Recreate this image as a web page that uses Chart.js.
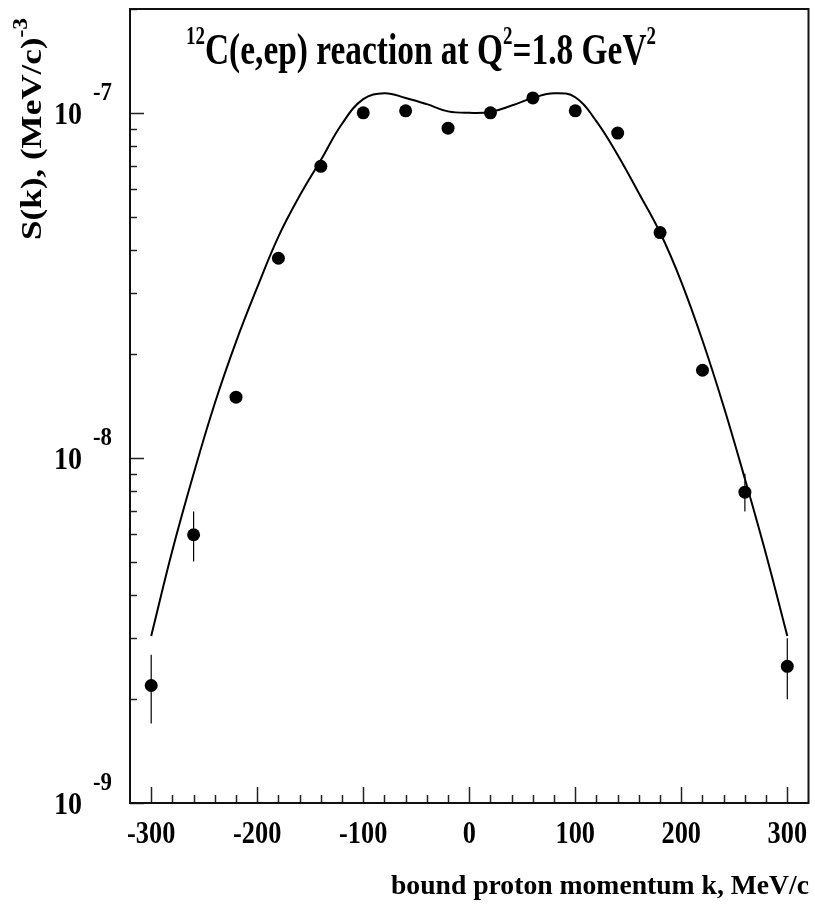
<!DOCTYPE html>
<html>
<head>
<meta charset="utf-8">
<script src="https://cdn.jsdelivr.net/npm/chart.js@4.4.1/dist/chart.umd.min.js"></script>
<style>
  body { margin: 0; background: #fff; }
  canvas { display: block; }
</style>
</head>
<body>
<canvas id="momChart" width="815" height="917"></canvas>
<script>
// datos medidos: momento k (MeV/c) y S(k)
const kPoints = [-300, -260, -220, -180, -140, -100, -60, -20, 20, 60, 100, 140, 180, 220, 260, 300];
const sPoints = [2.19e-9, 5.99e-9, 1.50e-8, 3.79e-8, 7.0e-8, 1.0e-7, 1.014e-7, 9.03e-8,
                 1.0e-7, 1.105e-7, 1.014e-7, 8.74e-8, 4.50e-8, 1.795e-8, 7.96e-9, 2.49e-9];
// barras de error (solo visibles en los extremos)
const errLow  = [1.70e-9, 5.01e-9, null, null, null, null, null, null, null, null, null, null, null, null, 7.0e-9, 2.0e-9];
const errHigh = [2.69e-9, 7.0e-9,  null, null, null, null, null, null, null, null, null, null, null, null, 9.0e-9, 3.0e-9];

// curva teorica
const kCurve = [-300, -280, -260, -240, -220, -200, -180, -160, -140, -120, -100, -80, -60, -40, -20, 0,
                20, 40, 60, 80, 100, 120, 140, 160, 180, 200, 220, 240, 260, 280, 300];
const sCurve = [3.05e-9, 5.4e-9, 9.0e-9, 1.44e-8, 2.17e-8, 3.12e-8, 4.38e-8, 5.75e-8, 7.3e-8, 9.3e-8, 1.096e-7, 1.14e-7, 1.105e-7, 1.06e-7, 1.01e-7, 1.0e-7,
                1.006e-7, 1.05e-7, 1.105e-7, 1.14e-7, 1.11e-7, 9.45e-8, 7.55e-8, 5.85e-8, 4.5e-8, 3.24e-8, 2.19e-8, 1.41e-8, 8.7e-9, 5.25e-9, 3.05e-9];

// ejes
const xTickLabels = [-300, -200, -100, 0, 100, 200, 300];
const xMinorStep = 20;
const yTickExps = [-9, -8, -7];

const FONT = '"Liberation Serif", "DejaVu Serif", serif';

// dibuja texto con partes (superindices) y compresion horizontal
function drawRich(ctx, parts, x, y, opts) {
    ctx.save();
    let w = 0;
    parts.forEach(p => {
        ctx.font = 'bold ' + p.size + 'px ' + FONT;
        p.w = ctx.measureText(p.t).width;
        w += p.w;
    });
    let sx = opts.sx || 1;
    if (opts.width) sx = opts.width / w;
    let start = 0;
    if (opts.align === 'center') start = -w * sx / 2;
    if (opts.align === 'right') start = -w * sx;
    ctx.translate(x, y);
    if (opts.rotate) ctx.rotate(opts.rotate);
    ctx.translate(start, 0);
    ctx.scale(sx, 1);
    ctx.fillStyle = '#000';
    ctx.textBaseline = 'alphabetic';
    ctx.textAlign = 'left';
    let cx = 0;
    parts.forEach(p => {
        ctx.font = 'bold ' + p.size + 'px ' + FONT;
        ctx.fillText(p.t, cx, p.dy || 0);
        cx += p.w;
    });
    ctx.restore();
}

const framePlugin = {
    id: 'frame',
    beforeDatasetsDraw(chart) {
        const ctx = chart.ctx;
        const xs = chart.scales.x, ys = chart.scales.y;
        ctx.save();
        // barras de error
        ctx.strokeStyle = '#000';
        ctx.lineWidth = 1.2;
        kPoints.forEach((k, i) => {
            if (errLow[i] == null) return;
            const px = xs.getPixelForValue(k);
            ctx.beginPath();
            ctx.moveTo(px, ys.getPixelForValue(errLow[i]));
            ctx.lineTo(px, ys.getPixelForValue(errHigh[i]));
            ctx.stroke();
        });
        ctx.restore();
    },
    afterDraw(chart) {
        const ctx = chart.ctx;
        const xs = chart.scales.x, ys = chart.scales.y;
        const a = chart.chartArea;
        ctx.save();
        ctx.strokeStyle = '#222';
        ctx.lineWidth = 1.5;
        // marcas eje x (hacia dentro)
        for (let v = -300; v <= 300; v += xMinorStep) {
            const px = Math.round(xs.getPixelForValue(v)) + 0.5;
            const len = (v % 100 === 0) ? 16 : 8;
            ctx.beginPath();
            ctx.moveTo(px, a.bottom);
            ctx.lineTo(px, a.bottom - len);
            ctx.stroke();
        }
        // marcas eje y logaritmico
        yTickExps.forEach(e => {
            for (let m = 1; m <= 9; m++) {
                const v = m * Math.pow(10, e);
                if (v > ys.max * 1.0001) break;
                const py = Math.round(ys.getPixelForValue(v)) + 0.5;
                const len = m === 1 ? 14 : 7;
                ctx.beginPath();
                ctx.moveTo(a.left, py);
                ctx.lineTo(a.left + len, py);
                ctx.stroke();
            }
        });
        // marco
        ctx.strokeStyle = '#111';
        ctx.lineWidth = 2;
        ctx.strokeRect(a.left, a.top, a.right - a.left, a.bottom - a.top);
        ctx.restore();

        // etiquetas eje x
        xTickLabels.forEach(v => {
            drawRich(ctx, [{t: String(v), size: 31}], xs.getPixelForValue(v), 843, {align: 'center', sx: 0.85});
        });
        // etiquetas eje y: 10^n
        yTickExps.forEach(e => {
            const py = ys.getPixelForValue(Math.pow(10, e));
            drawRich(ctx, [{t: '10', size: 32}], 54, py + 11, {width: 28});
            drawRich(ctx, [{t: String(e), size: 25}], 93, py - 13, {width: 19});
        });
        // titulo
        drawRich(ctx, [
            {t: '12', size: 25, dy: -20},
            {t: 'C(e,ep) reaction at Q', size: 44},
            {t: '2', size: 25, dy: -20},
            {t: '=1.8 GeV', size: 44},
            {t: '2', size: 25, dy: -20}
        ], 186, 64, {width: 470});
        // titulo eje x
        drawRich(ctx, [{t: 'bound proton momentum k, MeV/c', size: 28}], 809, 894, {align: 'right', width: 418});
        // titulo eje y
        drawRich(ctx, [
            {t: 'S(k), (MeV/c)', size: 30},
            {t: '-3', size: 20, dy: -14}
        ], 41, 240, {rotate: -Math.PI / 2, width: 222});
    }
};

const ctx = document.getElementById('momChart').getContext('2d');
new Chart(ctx, {
    type: 'line',
    data: {
        datasets: [{
            label: 'datos',
            data: kPoints.map((k, i) => ({x: k, y: sPoints[i]})),
            showLine: false,
            pointRadius: 6.5,
            pointHoverRadius: 6.5,
            pointBackgroundColor: '#000',
            pointBorderColor: '#000',
            pointBorderWidth: 0,
            order: 0
        }, {
            label: 'teoria',
            data: kCurve.map((k, i) => ({x: k, y: sCurve[i]})),
            borderColor: '#000',
            borderWidth: 2,
            pointRadius: 0,
            tension: 0.4,
            fill: false,
            order: 1
        }]
    },
    options: {
        responsive: false,
        animation: false,
        layout: { padding: { left: 130, right: 5, top: 9, bottom: 114 } },
        plugins: { legend: { display: false }, tooltip: { enabled: false } },
        scales: {
            x: { type: 'linear', min: -320, max: 320, display: false },
            y: { type: 'logarithmic', min: 1e-9, max: 2e-7, display: false }
        }
    },
    plugins: [framePlugin]
});
</script>
</body>
</html>
